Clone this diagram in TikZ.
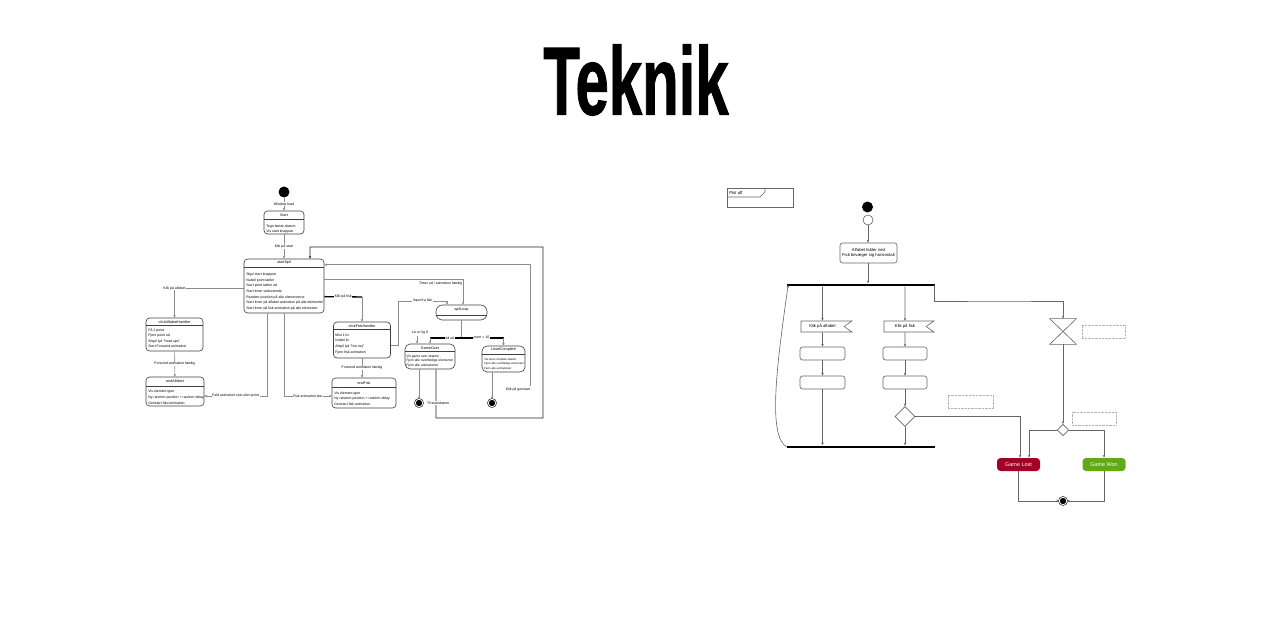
\documentclass[tikz,border=0pt]{standalone}
\usepackage{fontspec}
\setmainfont{Liberation Sans}
\newfontfamily\titlefont[FakeBold=1.2]{Liberation Sans Bold}
\usetikzlibrary{arrows.meta,positioning,shapes.geometric,shapes.symbols,calc}

\begin{document}
\begin{tikzpicture}[x=0.02cm,y=-0.02cm,
  statebox/.style={draw=black!75,rounded corners=0.07cm,line width=0.35pt,inner sep=0pt},
  ttl/.style={font=\fontsize{2.1}{2.5}\selectfont,inner sep=0pt},
  rowtxt/.style={align=left,inner sep=0pt,anchor=north west},
  lbl/.style={font=\fontsize{2}{2.5}\selectfont,fill=white,inner sep=0.4pt},
  conn/.style={draw=black!45,line width=0.35pt},
  darkconn/.style={draw=black!85,line width=0.45pt},
  arr/.style={-{Stealth[length=1.6pt,width=1.4pt]}},
  initdot/.style={circle,fill=black,minimum size=0.22cm,inner sep=0pt},
  finalst/.style={circle,fill=black,draw=black,double=white,double distance=0.5pt,line width=0.3pt,minimum size=0.15cm,inner sep=0pt},
  actbox/.style={draw=black!60,rounded corners=0.05cm,line width=0.35pt,inner sep=0pt,font=\fontsize{2.4}{2.9}\selectfont,align=center},
  flagbox/.style={signal,signal to=nowhere,signal from=east,signal pointer angle=70,draw=black!60,line width=0.35pt,inner sep=0pt,font=\fontsize{2.4}{2.9}\selectfont},
  bar/.style={fill=black,minimum width=2.96cm,minimum height=0.055cm,inner sep=0pt},
  notebox/.style={draw=black!30,dash pattern=on 0.4pt off 0.4pt,line width=0.4pt,minimum width=0.88cm,minimum height=0.26cm,inner sep=0pt},
  endbox/.style={rounded corners=0.07cm,minimum width=0.86cm,minimum height=0.26cm,inner sep=0pt,text=white,font=\fontsize{3.1}{3.5}\selectfont},
  rconn/.style={draw=black!60,line width=0.35pt}
]
\useasboundingbox (0,0) rectangle (1283,624);

% Title
\node (title) at (636,80) {\scalebox{0.62}[1]{\fontsize{55}{60}\selectfont\titlefont Teknik}};

% ---------------- left state diagram ----------------
\node[initdot] (linit) at (284,192) {};

% start
\node[statebox,minimum width=0.8cm,minimum height=0.46cm] (start) at (284,222.5) {};
\node[ttl] (startT) at (284,215.5) {Start};
\draw[statebox] (start.west |- 0,219.5) -- (start.east |- 0,219.5);
\node[rowtxt,font=\fontsize{2}{2.83}\selectfont] (startR) at (266,224.5) {Tegn første skærm\\Vis start knappen};

% startSpil
\node[statebox,minimum width=1.6cm,minimum height=1.08cm] (korspil) at (284,286) {};
\node[ttl] (korspilT) at (284,263) {startSpil};
\draw[statebox] (korspil.west |- 0,267.5) -- (korspil.east |- 0,267.5);
\node[rowtxt,font=\fontsize{2}{3.24}\selectfont] (korspilR) at (246,272.5) {Skjul start knappen\\Nulstil point tæller\\Start point tæller ud\\Start timer vedvarende\\Random position på alle elementerne\\Start timer på alfabet animation på alle elementer\\Start timer på fisk animation på alle elementer};

% clickAlfabetHandler
\node[statebox,minimum width=1.14cm,minimum height=0.66cm] (lukskud) at (174.5,334.5) {};
\node[ttl] (lukskudT) at (174.5,322) {clickAlfabetHandler};
\draw[statebox] (lukskud.west |- 0,325.5) -- (lukskud.east |- 0,325.5);
\node[rowtxt,font=\fontsize{2}{3}\selectfont] (lukskudR) at (148,328.5) {Få 1 point\\Fjern point ud\\Afspil lyd "hvad ups"\\Start Forsvind animation};

% endAlfabet
\node[statebox,minimum width=1.16cm,minimum height=0.58cm] (sendskud) at (175,391.5) {};
\node[ttl] (sendskudT) at (175,381.5) {endAlfabet};
\draw[statebox] (sendskud.west |- 0,386) -- (sendskud.east |- 0,386);
\node[rowtxt,font=\fontsize{2}{3.4}\selectfont] (sendskudR) at (148,389.5) {Vis element igen\\Ny random position + random delay\\Genstart fald animation};

% clickFiskHandler
\node[statebox,minimum width=1.14cm,minimum height=0.72cm] (klikfisk) at (362,340) {};
\node[ttl] (klikfiskT) at (362,326) {clickFiskHandler};
\draw[statebox] (klikfisk.west |- 0,329.5) -- (klikfisk.east |- 0,329.5);
\node[rowtxt,font=\fontsize{2}{3.17}\selectfont] (klikfiskR) at (335,333.5) {Mist 1 liv\\Nulstil liv\\Afspil lyd "hov nej"\\Fjern fisk animation};

% endFisk
\node[statebox,minimum width=1.28cm,minimum height=0.6cm] (endfisk) at (364,393) {};
\node[ttl] (endfiskT) at (364,383) {endFisk};
\draw[statebox] (endfisk.west |- 0,387.5) -- (endfisk.east |- 0,387.5);
\node[rowtxt,font=\fontsize{2}{3.1}\selectfont] (endfiskR) at (334,391.5) {Vis element igen\\Ny random position + random delay\\Genstart fisk animation};

% spilLoop
\node[statebox,rounded corners=0.13cm,minimum width=1.02cm,minimum height=0.3cm] (loop) at (461.5,312.5) {};
\node[ttl] (loopT) at (461.5,310) {spilLoop};
\draw[statebox] (loop.west |- 0,315.5) -- (loop.east |- 0,315.5);

% GameOver
\node[statebox,rounded corners=0.1cm,minimum width=1.0cm,minimum height=0.5cm] (spiltabt) at (430,356.5) {};
\node[ttl] (spiltabtT) at (430,348) {GameOver};
\draw[statebox] (spiltabt.west |- 0,351.5) -- (spiltabt.east |- 0,351.5);
\node[rowtxt,font=\fontsize{1.9}{2.66}\selectfont] (spiltabtR) at (406,354.5) {Vis game over skærm\\Fjern alle overflødige elementer\\Fjern alle animationer};

% LevelComplete
\node[statebox,rounded corners=0.1cm,minimum width=0.86cm,minimum height=0.52cm] (spilvundet) at (503.5,359) {};
\node[ttl] (spilvundetT) at (503.5,350) {LevelComplete};
\draw[statebox] (spilvundet.west |- 0,354) -- (spilvundet.east |- 0,354);
\node[rowtxt,font=\fontsize{1.6}{2.55}\selectfont] (spilvundetR) at (484,358) {Vis level complete skærm\\Fjern alle overflødige elementer\\Fjern alle animationer};

% final states
\node[finalst] (fin1) at (419,403) {};
\node[finalst] (fin2) at (492,403) {};

% connectors
\draw[conn,arr] (linit) -- node[lbl]{Window load} (start);
\draw[conn,arr] (start) -- node[lbl]{Klik på start} (korspil);
\draw[darkconn,arr] ([xshift=0.12cm]spiltabt.south) |- (543,418) |- (310,247) -- ([xshift=0.52cm]korspil.north);
\node[lbl] (genstart) at (518,389) {Klik på genstart};
\draw[conn,arr] ([xshift=-0.02cm]genstart.north east) |- ([yshift=-0.12cm]korspil.north east);
\draw[conn,arr] ([yshift=-0.42cm]korspil.north east) -| node[pos=0.5,anchor=north east,lbl,fill=none,yshift=-0.02cm]{Timer ud / animation færdig} ([xshift=0.03cm]loop.north);
\draw[line width=0.8pt] ([yshift=-0.76cm]korspil.north east) -- node[lbl]{Klik på fisk} (klikfisk.north |- 0,297);
\draw[conn,arr] (klikfisk.north |- 0,297) -- (klikfisk.north);
\draw[conn,arr] (klikfisk.east |- 0,345) -| (398,301) -| node[lbl,pos=0.25]{Input fra fisk} (447,0 |- loop.north);
\draw[conn] (loop.south) -- (loop.south |- 0,338);
\draw[line width=0.7pt] (430,338) -- node[lbl,pos=0.27]{tid ud} node[lbl,pos=0.7]{point > 10} (503.5,338);
\draw[conn,arr] (430,338) -- (spiltabt.north);
\draw[conn,arr] (503.5,338) -- (spilvundet.north);
\node[lbl] (livlbl) at (420,333) {Liv er lig 0};
\draw[conn,arr] (livlbl.south -| 417,0) -- (spiltabt.north -| 417,0);
\draw[conn,arr] (spiltabt.south -| fin1) -- (fin1);
\node[lbl,right=0.06cm of fin1] (fin1lbl) {Til startskærm};
\draw[conn,arr] (spilvundet.south -| fin2) -- (fin2);
\draw[conn,arr] (korspil.west |- 0,288) -| node[lbl,pos=0.5]{Klik på alfabet} (lukskud.north);
\draw[conn,arr] (lukskud) -- node[lbl]{Forsvind animation færdig} (sendskud);
\draw[conn,arr] (korspil.south -| 267,0) |- node[lbl,pos=0.75]{Fald animation slut uden point} (sendskud.east |- 0,396);
\draw[conn,arr] (korspil.south -| 284,0) |- node[lbl,pos=0.75]{Fisk animation slut} (endfisk.west |- 0,396);
\draw[conn,arr] (klikfisk.south) -- node[lbl]{Forsvind animation færdig} (klikfisk.south |- endfisk.north);

% ---------------- right activity diagram ----------------
\node[draw=black!60,line width=0.35pt,minimum width=1.32cm,minimum height=0.38cm,inner sep=0pt] (plotfrm) at (760,197.5) {};
\draw[black!60,line width=0.35pt] (plotfrm.west |- 0,197) -- (760,197) -- (765,192) -- (765,0 |- plotfrm.north);
\node[font=\fontsize{2.4}{2.9}\selectfont,anchor=west,inner sep=0pt] (plotlbl) at (729,192.5) {Plot aff};

\node[initdot] (rinit) at (867.5,207) {};
\node[circle,draw=black!60,line width=0.35pt,minimum size=0.2cm,inner sep=0pt] (rhollow) at (868,220) {};
\node[actbox,minimum width=1.14cm,minimum height=0.4cm] (act) at (868.5,253) {Alfabet falder ned\\Fisk bevæger sig horisontalt};
\node[bar] (fork) at (861,285) {};
\node[bar] (join) at (861,447) {};

\node[flagbox,minimum width=1.02cm,minimum height=0.22cm] (flagA) at (822.5,326.5) {Klik på alfabet\hspace{0.1cm}};
\node[actbox,minimum width=0.9cm,minimum height=0.26cm] (boxA1) at (822.5,353.5) {};
\node[actbox,minimum width=0.9cm,minimum height=0.26cm] (boxA2) at (822.5,382.5) {};
\node[flagbox,minimum width=1.0cm,minimum height=0.22cm] (flagB) at (905,326.5) {Klik på fisk\hspace{0.1cm}};
\node[actbox,minimum width=0.88cm,minimum height=0.26cm] (boxB1) at (905,353.5) {};
\node[actbox,minimum width=0.88cm,minimum height=0.26cm] (boxB2) at (905,382.5) {};
\node[diamond,draw=black!60,line width=0.35pt,minimum size=0.4cm,inner sep=0pt] (dB) at (905,416.5) {};

\node[minimum width=0.52cm,minimum height=0.5cm,inner sep=0pt] (hg) at (1063,331.5) {};
\draw[black!60,line width=0.35pt] (hg.north west) -- (hg.north east) -- (hg.south west) -- (hg.south east) -- cycle;
\node[diamond,draw=black!60,line width=0.35pt,minimum size=0.23cm,inner sep=0pt] (dW) at (1063,430) {};

\node[notebox,minimum width=0.86cm] (note1) at (1103.5,331.5) {};
\node[notebox,minimum width=0.9cm] (note2) at (970.5,401.5) {};
\node[notebox] (note3) at (1094,418.5) {};

\node[endbox,fill={rgb,255:red,162;green,0;blue,37}] (lost) at (1018.5,464.5) {Game Lost};
\node[endbox,fill={rgb,255:red,96;green,169;blue,23}] (won) at (1104,464.5) {Game Won};
\node[finalst] (rfin) at (1063,501) {};

\draw[rconn,arr] (rhollow) -- (act.north -| rhollow);
\draw[rconn,arr] (act.south -| rhollow) -- (fork.north -| rhollow);
\draw[rconn,arr] (flagA |- fork.south) -- (flagA);
\draw[rconn,arr] (flagA) -- (boxA1);
\draw[rconn,arr] (boxA1) -- (boxA2);
\draw[rconn,arr] (boxA2) -- (boxA2 |- join.north);
\draw[rconn,arr] (flagB |- fork.south) -- (flagB);
\draw[rconn,arr] (flagB) -- (boxB1);
\draw[rconn,arr] (boxB1) -- (boxB2);
\draw[rconn,arr] (boxB2) -- (dB.north);
\draw[rconn,arr] (dB.south) -- (dB.south |- join.north);
\draw[rconn,arr] (dB.east) -| ([xshift=0.03cm]lost.north);
\draw[rconn,arr] (join.west) .. controls (768,436) and (776,370) .. ([xshift=0.03cm]fork.west);
\draw[rconn,arr] ([xshift=-0.03cm]fork.east) |- (1000,301) -| (hg.north);
\draw[rconn,arr] (hg.south) -- (dW.north);
\draw[rconn,arr] (dW.west) -| ([xshift=0.21cm]lost.north);
\draw[rconn,arr] (dW.east) -| (won.north);
\draw[rconn,arr] (lost.south) |- (rfin.west);
\draw[rconn,arr] (won.south) |- (rfin.east);

\end{tikzpicture}
\end{document}
